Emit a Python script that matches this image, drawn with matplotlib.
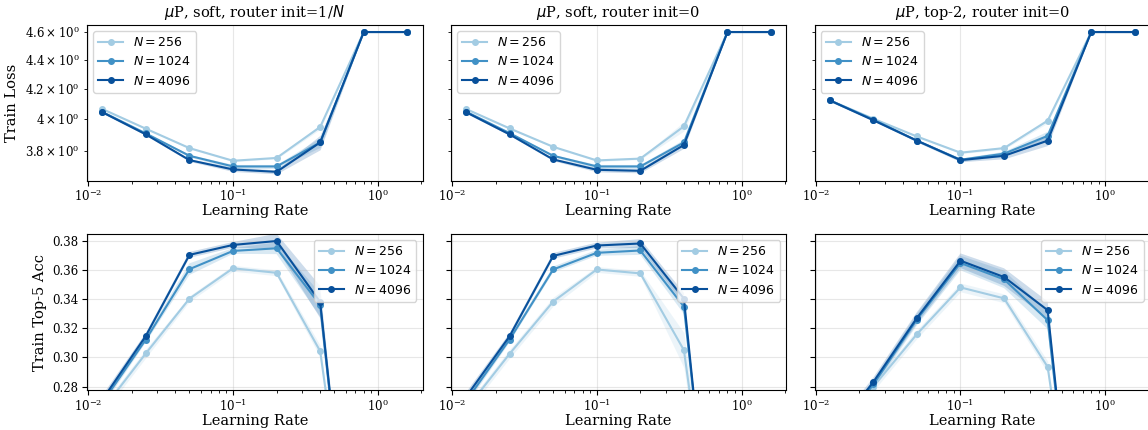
import matplotlib.pyplot as plt
from matplotlib.ticker import MultipleLocator

plt.rcParams['font.family'] = 'serif'
plt.rcParams['font.serif'] = ['DejaVu Serif']
plt.rcParams['xtick.labelsize'] = 8.5
plt.rcParams['ytick.labelsize'] = 8.5
plt.rcParams['xtick.major.pad'] = 2
plt.rcParams['ytick.major.pad'] = 2.5

lrs = [0.0125, 0.025, 0.05, 0.1, 0.2, 0.4, 0.8, 1.6]
widths = [256, 1024, 4096]
titles = [r'$\mu$P, soft, router init=1/$N$',
          r'$\mu$P, soft, router init=0',
          r'$\mu$P, top-2, router init=0']

# train loss, one row per width (256, 1024, 4096)
loss_soft_inv = [
    [4.064, 3.937, 3.816, 3.739, 3.756, 3.948, 4.6, 4.6],
    [4.045, 3.907, 3.769, 3.705, 3.705, 3.851, 4.6, 4.6],
    [4.043, 3.901, 3.743, 3.687, 3.673, 3.851, 4.6, 4.6],
]
loss_soft_zero = [
    [4.064, 3.939, 3.824, 3.741, 3.752, 3.952, 4.6, 4.6],
    [4.047, 3.909, 3.769, 3.705, 3.705, 3.851, 4.6, 4.6],
    [4.043, 3.901, 3.747, 3.685, 3.679, 3.835, 4.6, 4.6],
]
loss_top2_zero = [
    [4.121, 4.001, 3.888, 3.788, 3.816, 3.988, 4.6, 4.6],
    [4.121, 3.995, 3.862, 3.745, 3.782, 3.892, 4.6, 4.6],
    [4.121, 3.991, 3.862, 3.743, 3.769, 3.862, 4.6, 4.6],
]
# half-width of the shaded band around each loss curve
loss_soft_inv_err = [
    [0.006, 0.005, 0.005, 0.006, 0.006, 0.015, 0.0, 0.0],
    [0.006, 0.006, 0.008, 0.012, 0.012, 0.03, 0.0, 0.0],
    [0.006, 0.006, 0.008, 0.012, 0.012, 0.045, 0.0, 0.0],
]
loss_soft_zero_err = [
    [0.006, 0.005, 0.005, 0.006, 0.006, 0.03, 0.0, 0.0],
    [0.006, 0.006, 0.008, 0.012, 0.012, 0.02, 0.0, 0.0],
    [0.006, 0.006, 0.008, 0.012, 0.012, 0.02, 0.0, 0.0],
]
loss_top2_zero_err = [
    [0.008, 0.006, 0.005, 0.006, 0.008, 0.015, 0.0, 0.0],
    [0.008, 0.006, 0.008, 0.01, 0.015, 0.03, 0.0, 0.0],
    [0.008, 0.006, 0.008, 0.01, 0.018, 0.03, 0.0, 0.0],
]

# train top-5 accuracy, one row per width
acc_soft_inv = [
    [0.264, 0.3028, 0.3403, 0.3611, 0.358, 0.3043, 0.09, 0.08],
    [0.269, 0.3123, 0.3605, 0.373, 0.3748, 0.336, 0.06, 0.05],
    [0.271, 0.3148, 0.3703, 0.3771, 0.3798, 0.338, 0.06, 0.05],
]
acc_soft_zero = [
    [0.2645, 0.3025, 0.3383, 0.3603, 0.3576, 0.305, 0.09, 0.08],
    [0.270, 0.3123, 0.3603, 0.3717, 0.3733, 0.3348, 0.06, 0.05],
    [0.273, 0.3146, 0.3696, 0.3767, 0.3781, 0.3403, 0.05, 0.05],
]
acc_top2_zero = [
    [0.238, 0.280, 0.316, 0.348, 0.3405, 0.2935, 0.09, 0.08],
    [0.243, 0.2815, 0.326, 0.3647, 0.3535, 0.3255, 0.06, 0.05],
    [0.245, 0.2832, 0.3271, 0.3663, 0.3551, 0.3324, 0.05, 0.05],
]
acc_soft_inv_err = [
    [0.003, 0.003, 0.002, 0.002, 0.002, 0.004, 0.0, 0.0],
    [0.003, 0.002, 0.004, 0.002, 0.004, 0.008, 0.0, 0.0],
    [0.003, 0.002, 0.002, 0.002, 0.005, 0.011, 0.0, 0.0],
]
acc_soft_zero_err = [
    [0.003, 0.003, 0.003, 0.002, 0.002, 0.012, 0.0, 0.0],
    [0.003, 0.002, 0.002, 0.002, 0.003, 0.005, 0.0, 0.0],
    [0.003, 0.002, 0.002, 0.002, 0.003, 0.004, 0.0, 0.0],
]
acc_top2_zero_err = [
    [0.003, 0.003, 0.003, 0.003, 0.003, 0.004, 0.0, 0.0],
    [0.004, 0.003, 0.004, 0.005, 0.006, 0.006, 0.0, 0.0],
    [0.004, 0.003, 0.004, 0.005, 0.006, 0.006, 0.0, 0.0],
]

losses = [loss_soft_inv, loss_soft_zero, loss_top2_zero]
loss_errs = [loss_soft_inv_err, loss_soft_zero_err, loss_top2_zero_err]
accs = [acc_soft_inv, acc_soft_zero, acc_top2_zero]
acc_errs = [acc_soft_inv_err, acc_soft_zero_err, acc_top2_zero_err]

cmap = plt.get_cmap('Blues')
colors = [cmap(0.36), cmap(0.625), cmap(0.875)]

fig, axes = plt.subplots(2, 3, figsize=(11.48, 4.3), dpi=100, sharey='row')
fig.subplots_adjust(left=0.0758, right=1.0018, top=0.942, bottom=0.093,
                    wspace=0.084, hspace=0.34)


def draw(ax, series, errs):
    for n, ys, es, c in zip(widths, series, errs, colors):
        lo = [y - e for y, e in zip(ys, es)]
        hi = [y + e for y, e in zip(ys, es)]
        ax.fill_between(lrs, lo, hi, color=c, alpha=0.2, linewidth=0)
        ax.plot(lrs, ys, marker='o', markersize=4, linewidth=1.5,
                color=c, label=f'$N = {n}$')
    ax.set_xscale('log')
    ax.grid(True, alpha=0.3)
    ax.set_xlabel('Learning Rate', fontsize=10.5, labelpad=0)


for j in range(3):
    ax = axes[0, j]
    draw(ax, losses[j], loss_errs[j])
    ax.set_yscale('log')
    ax.set_title(titles[j], fontsize=10.5)
    ax.legend(loc='upper left', prop={'family': 'DejaVu Sans', 'size': 9})

    ax = axes[1, j]
    draw(ax, accs[j], acc_errs[j])
    ax.set_ylim(0.2777, 0.3846)
    ax.yaxis.set_major_locator(MultipleLocator(0.02))
    ax.legend(loc='upper right', prop={'family': 'DejaVu Sans', 'size': 9})

axes[0, 0].set_ylabel('Train Loss', fontsize=10.5)
axes[1, 0].set_ylabel('Train Top-5 Acc', fontsize=10.5)

fig.savefig('out.png', dpi=100)
